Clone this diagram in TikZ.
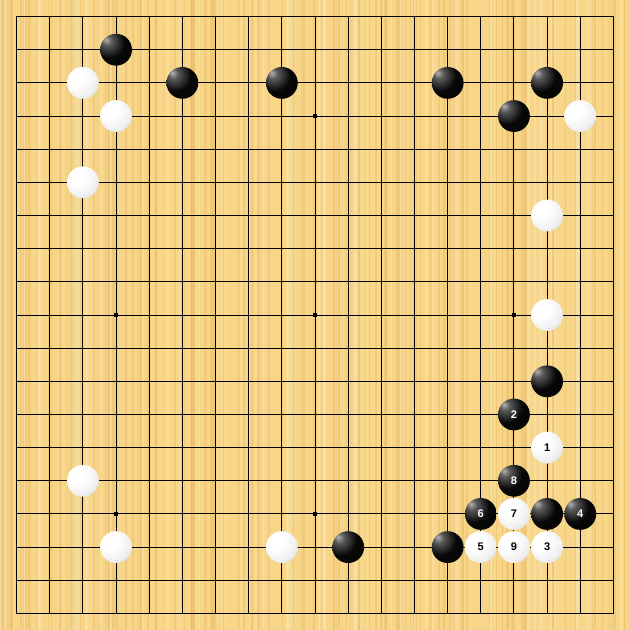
\documentclass[tikz,border=0pt]{standalone}
\usepackage{fontspec}
\usepackage{tikz}
\newfontfamily\stonefont{Liberation Sans}[Scale=1]

\definecolor{boardwood}{HTML}{F7D68A}
\definecolor{boardstripe}{HTML}{EBBE6C}
\definecolor{boardlight}{HTML}{FCE6AC}

\pgfdeclareradialshading{blackstoneshade}{\pgfpoint{-16bp}{16bp}}{%
  color(0bp)=(black!30); color(8bp)=(black!65); color(24bp)=(black!97);
  color(56bp)=(black); color(66bp)=(black!85); color(80bp)=(black!75)}
\pgfdeclareradialshading{whitestoneshade}{\pgfpoint{-13bp}{13bp}}{%
  color(0bp)=(white); color(14bp)=(white); color(30bp)=(black!6);
  color(44bp)=(black!20); color(56bp)=(black!40); color(80bp)=(black!50)}

\tikzset{
  gridline/.style={line width=0.8pt, black},
  bstone/.style={circle, minimum size=0.96cm, inner sep=0pt,
    shading=blackstoneshade, text=white, font=\stonefont\bfseries\fontsize{9.5}{9.5}\selectfont},
  wstone/.style={circle, minimum size=0.96cm, inner sep=0pt,
    shading=whitestoneshade, text=black, font=\stonefont\bfseries\fontsize{9.5}{9.5}\selectfont},
}

\begin{document}
\begin{tikzpicture}[yscale=-1]

% Board
\useasboundingbox (-0.5,-0.5) rectangle (18.5,18.5);
\fill[boardwood] (-0.5,-0.5) rectangle (18.5,18.5);
\pgfmathsetseed{11}
\foreach \k in {1,...,170} {
    \pgfmathsetmacro\sx{-0.5+19*rnd}
    \pgfmathsetmacro\sw{0.02+0.05*rnd}
    \fill[boardstripe, opacity=0.5] (\sx,-0.5) rectangle ++(\sw,19);
}
\foreach \k in {1,...,80} {
    \pgfmathsetmacro\sx{-0.5+19*rnd}
    \pgfmathsetmacro\sw{0.02+0.06*rnd}
    \fill[boardlight, opacity=0.5] (\sx,-0.5) rectangle ++(\sw,19);
}

% Grid lines
\foreach \i in {1,...,17} {
    \draw[gridline] (\i,0) -- (\i,18);
    \draw[gridline] (0,\i) -- (18,\i);
}
\draw[line width=1.3pt] (0,0) rectangle (18,18);

% Star points
\foreach \x/\y in {3/3, 9/3, 15/3, 3/9, 9/9, 15/9, 3/15, 9/15, 15/15}
    \fill (\x-0.065,\y-0.065) rectangle (\x+0.065,\y+0.065);

% Black stones
\foreach \x/\y in {3/1, 5/2, 8/2, 13/2, 16/2, 15/3, 16/11, 16/15, 10/16, 13/16}
    \node[bstone] (b-\x-\y) at (\x,\y) {};

% White stones
\foreach \x/\y in {2/2, 3/3, 17/3, 2/5, 16/6, 16/9, 2/14, 3/16, 8/16}
    \node[wstone] (w-\x-\y) at (\x,\y) {};

% Numbered moves
\node[wstone] (m1) at (16,13) {1};
\node[bstone] (m2) at (15,12) {2};
\node[wstone] (m3) at (16,16) {3};
\node[bstone] (m4) at (17,15) {4};
\node[wstone] (m5) at (14,16) {5};
\node[bstone] (m6) at (14,15) {6};
\node[wstone] (m7) at (15,15) {7};
\node[bstone] (m8) at (15,14) {8};
\node[wstone] (m9) at (15,16) {9};

\end{tikzpicture}
\end{document}
